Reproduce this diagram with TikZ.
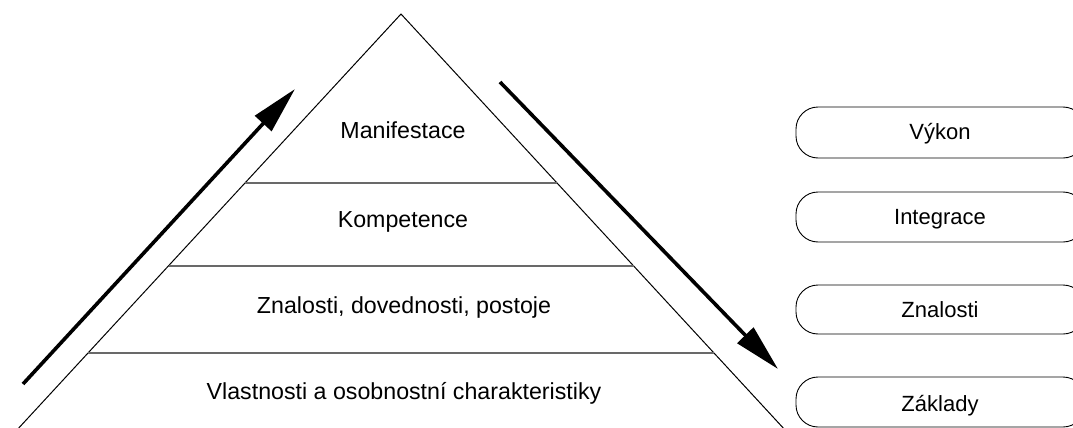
\documentclass[tikz,border=0pt]{standalone}
\usepackage{fontspec}
\setmainfont{Liberation Sans}
\usetikzlibrary{arrows.meta}
\definecolor{divgray}{RGB}{105,105,105}
\begin{document}
\begin{tikzpicture}[x=1pt,y=-1pt,
  label/.style={font=\fontsize{22}{26}\selectfont, anchor=base, inner sep=0pt},
  layer/.style={label, font=\fontsize{23.2}{27}\selectfont},
  edge/.style={line width=1pt, black},
  divider/.style={line width=1.6pt, divgray},
  flow/.style={line width=3.6pt, -{Triangle[length=47pt,width=22pt]}},
  pill/.style={draw, line width=0.9pt, rounded corners=22pt}]
  \useasboundingbox (0,0) rectangle (1073,428);
  \clip (0,0) rectangle (1073,428);

  % pyramid outline
  \coordinate (apex) at (401,14);
  \coordinate (bl) at (16,431);
  \coordinate (br) at (786,431);
  \draw[edge] (bl) -- (apex) -- (br);

  % layer dividers
  \coordinate (d1l) at (245,183);   \coordinate (d1r) at (557,183);
  \coordinate (d2l) at (168.5,266); \coordinate (d2r) at (633.5,266);
  \coordinate (d3l) at (88,353);    \coordinate (d3r) at (714,353);
  \draw[divider] (d1l) -- (d1r);
  \draw[divider] (d2l) -- (d2r);
  \draw[divider] (d3l) -- (d3r);

  % layer labels
  \node[layer] (manif) at (403,138) {Manifestace};
  \node[layer] (komp)  at (403,227) {Kompetence};
  \node[layer] (znal)  at (404,313) {Znalosti, dovednosti, postoje};
  \node[layer] (vlast) at (404,399) {Vlastnosti a osobnostní charakteristiky};

  % direction arrows
  \coordinate (upfrom) at (23,384);
  \coordinate (upto)   at (295,89);
  \coordinate (dnfrom) at (500,82);
  \coordinate (dnto)   at (778,369);
  \draw[flow] (upfrom) -- (upto);
  \draw[flow] (dnfrom) -- (dnto);

  % stage boxes on the right
  \draw[pill] (796,107) rectangle (1085,158);
  \draw[pill] (796,192) rectangle (1085,242);
  \draw[pill] (796,285) rectangle (1085,334);
  \draw[pill] (796,377) rectangle (1085,427);
  \node[label] (vykon) at (940,139) {Výkon};
  \node[label] (integ) at (940,224) {Integrace};
  \node[label] (znb)   at (940,317) {Znalosti};
  \node[label] (zakl)  at (940,411) {Základy};
\end{tikzpicture}
\end{document}
